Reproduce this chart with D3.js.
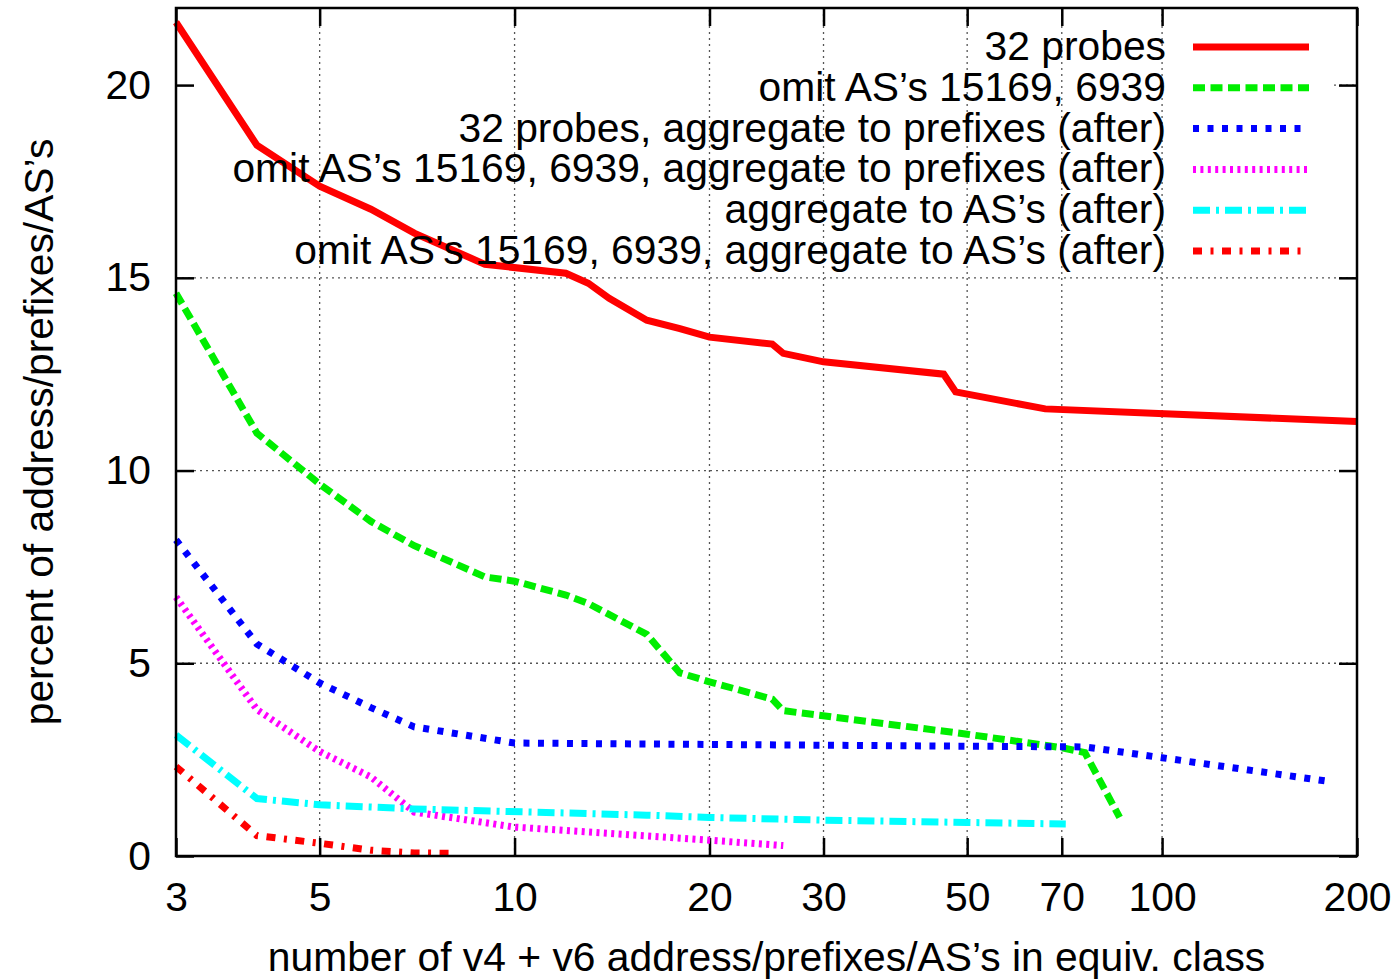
<!DOCTYPE html>
<html>
<head>
<meta charset="utf-8">
<script src="https://cdn.jsdelivr.net/npm/d3@7"></script>
<style>
  body { margin: 0; background: #fff; }
  text { font-family: "Liberation Sans", Arial, Helvetica, sans-serif; font-size: 40.8px; fill: #000; }
  .tick line { stroke: #000; stroke-width: 2.5; }
  .grid { stroke: #555; stroke-width: 1.3; stroke-dasharray: 2,4; }
</style>
</head>
<body>
<div id="chart"></div>
<script>
// values: [class size, percent]
var probes32 = [[3,21.63],[4,18.44],[5,17.38],[6,16.78],[7,16.16],[9,15.35],[12,15.12],[13,14.86],[14,14.47],[16,13.9],[18,13.68],[20,13.46],[25,13.28],[26,13.04],[30,12.82],[46,12.5],[48,12.04],[66,11.6],[200,11.27]];
var omitAS = [[3,14.6],[4,10.97],[5,9.65],[6,8.68],[7,8.05],[8,7.62],[9,7.24],[10,7.13],[12,6.77],[13,6.55],[16,5.75],[18,4.75],[20,4.52],[25,4.07],[26,3.77],[50,3.16],[70,2.81],[76,2.68],[86,1.0]];
var probesPrefix = [[3,8.2],[4,5.5],[5,4.49],[6,3.85],[7,3.35],[10,2.93],[48,2.85],[76,2.83],[100,2.55],[180,1.94]];
var omitPrefix = [[3,6.72],[4,3.8],[5,2.71],[6,2.05],[7,1.14],[10,0.75],[20,0.41],[26,0.27]];
var aggAS = [[3,3.14],[4,1.49],[5,1.33],[7,1.22],[16,1.06],[20,1.0],[30,0.93],[50,0.87],[71,0.83]];
var omitAggAS = [[3,2.32],[4,0.53],[5,0.33],[6,0.15],[7,0.08],[8,0.07]];

var xTicks = [3, 5, 10, 20, 30, 50, 70, 100, 200];
var yTicks = [0, 5, 10, 15, 20];

var series = [
  { name: "32 probes", data: probes32, color: "#ff0000", dash: null },
  { name: "omit AS\u2019s 15169, 6939", data: omitAS, color: "#00ee00", dash: "12,5.5" },
  { name: "32 probes, aggregate to prefixes (after)", data: probesPrefix, color: "#0000ff", dash: "6,8.5" },
  { name: "omit AS\u2019s 15169, 6939, aggregate to prefixes (after)", data: omitPrefix, color: "#ff00ff", dash: "3,4.4" },
  { name: "aggregate to AS\u2019s (after)", data: aggAS, color: "#00ffff", dash: "17,6,3,6" },
  { name: "omit AS\u2019s 15169, 6939, aggregate to AS\u2019s (after)", data: omitAggAS, color: "#ff0000", dash: "9,8.5,3,8.5" }
];

var margin = {top: 8, right: 38, bottom: 123, left: 176},
    width = 1395 - margin.left - margin.right,
    height = 979 - margin.top - margin.bottom;

var svg = d3.select("#chart").append("svg")
    .attr("width", 1395)
    .attr("height", 979)
  .append("g")
    .attr("transform", "translate(" + margin.left + "," + margin.top + ")");

var x = d3.scaleLog().domain([3, 200]).range([0, width]);
var y = d3.scaleLinear().domain([0, 22]).range([height, 0]);

// horizontal grid
svg.selectAll(".hgrid")
    .data(yTicks.filter(function (d) { return d > 0; }))
    .enter().append("line")
    .attr("class", "grid")
    .attr("x1", 0).attr("x2", width)
    .attr("y1", function (d) { return y(d); })
    .attr("y2", function (d) { return y(d); });

// the key hides the horizontal grid behind it
svg.append("rect")
    .attr("x", 0).attr("y", 19)
    .attr("width", 1154).attr("height", 244)
    .attr("fill", "#fff");

// vertical grid
svg.selectAll(".vgrid")
    .data(xTicks.slice(1, -1))
    .enter().append("line")
    .attr("class", "grid")
    .attr("y1", 0).attr("y2", height)
    .attr("x1", function (d) { return x(d); })
    .attr("x2", function (d) { return x(d); });

// axes, ticks pointing inward
svg.append("g")
    .attr("transform", "translate(0," + height + ")")
    .call(d3.axisBottom(x).tickValues(xTicks).tickFormat(d3.format("d"))
      .tickSizeInner(-18).tickSizeOuter(0).tickPadding(26));
svg.append("g")
    .call(d3.axisLeft(y).tickValues(yTicks).tickFormat(d3.format("d"))
      .tickSizeInner(-18).tickSizeOuter(0).tickPadding(25));
svg.append("g")
    .call(d3.axisTop(x).tickValues(xTicks).tickFormat("").tickSizeInner(-18).tickSizeOuter(0));
svg.append("g")
    .attr("transform", "translate(" + width + ",0)")
    .call(d3.axisRight(y).tickValues(yTicks).tickFormat("").tickSizeInner(-18).tickSizeOuter(0));

svg.selectAll(".domain").remove();
svg.selectAll(".tick text").style("font-size", "40.8px").attr("fill", "#000");

// lines
var line = d3.line()
    .x(function (d) { return x(d[0]); })
    .y(function (d) { return y(d[1]); });

series.forEach(function (s) {
  svg.append("path")
      .datum(s.data)
      .attr("fill", "none")
      .attr("stroke", s.color)
      .attr("stroke-width", 7)
      .attr("stroke-dasharray", s.dash)
      .attr("d", line);
});

// key
series.forEach(function (s, i) {
  var ky = 39 + i * 40.8;
  svg.append("text")
      .attr("x", 990)
      .attr("y", ky)
      .attr("dy", 13)
      .attr("text-anchor", "end")
      .text(s.name);
  svg.append("line")
      .attr("x1", 1017).attr("x2", 1133)
      .attr("y1", ky).attr("y2", ky)
      .attr("stroke", s.color)
      .attr("stroke-width", 7)
      .attr("stroke-dasharray", s.dash);
});

// frame
svg.append("rect")
    .attr("width", width).attr("height", height)
    .attr("fill", "none")
    .attr("stroke", "#000")
    .attr("stroke-width", 2.5);

// axis titles
svg.append("text")
    .attr("x", width / 2)
    .attr("y", 963)
    .attr("text-anchor", "middle")
    .text("number of v4 + v6 address/prefixes/AS\u2019s in equiv. class");

svg.append("text")
    .attr("transform", "translate(" + (53 - margin.left) + "," + (height / 2) + ") rotate(-90)")
    .attr("text-anchor", "middle")
    .text("percent of address/prefixes/AS\u2019s");
</script>
</body>
</html>
